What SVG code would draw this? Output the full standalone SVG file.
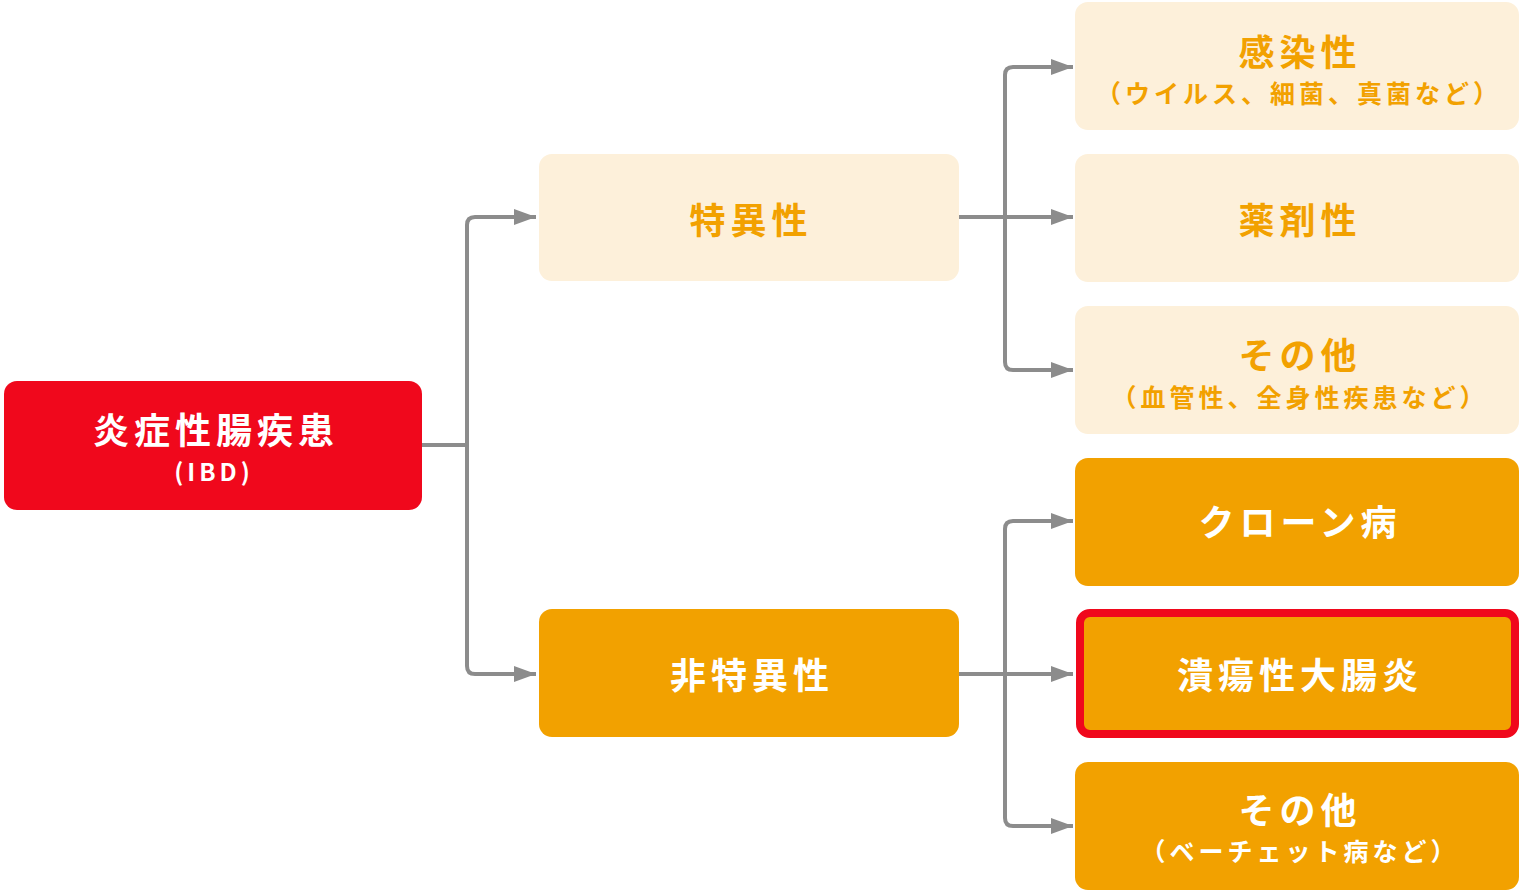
<svg xmlns="http://www.w3.org/2000/svg" width="1522" height="894" viewBox="0 0 1522 894">
<style>
.t{font-family:"Noto Sans CJK JP","Noto Sans",sans-serif;font-weight:700;text-anchor:middle}
.m{font-size:36px;letter-spacing:5px}
.s{font-size:25px;letter-spacing:4px}
.w{fill:#ffffff}
.o{fill:#F2A100}
.lt{fill:#FDF0DA}
.or{fill:#F2A100}
.c{fill:none;stroke:#8C8C8C;stroke-width:4}
</style>
<defs>
<marker id="ah" viewBox="0 0 10 10" refX="10" refY="5" markerWidth="5.5" markerHeight="4" markerUnits="strokeWidth" orient="auto" preserveAspectRatio="none">
<path d="M0,0 L10,5 L0,10 Z" fill="#8C8C8C"/>
</marker>
</defs>
<rect width="1522" height="894" fill="#ffffff"/>
<g id="connectors">
<path class="c" d="M422,445 H467"/>
<path class="c" d="M536,217 H475 Q467,217 467,225 V666 Q467,674 475,674 H536" marker-end="url(#ah)"/>
<path class="c" d="M475,217 H536" marker-end="url(#ah)"/>
<path class="c" d="M959,217 H1073" marker-end="url(#ah)"/>
<path class="c" d="M1073,67 H1013 Q1005,67 1005,75 V362 Q1005,370 1013,370 H1073" marker-end="url(#ah)"/>
<path class="c" d="M1013,67 H1073" marker-end="url(#ah)"/>
<path class="c" d="M959,674 H1073" marker-end="url(#ah)"/>
<path class="c" d="M1073,521 H1013 Q1005,521 1005,529 V818 Q1005,826 1013,826 H1073" marker-end="url(#ah)"/>
<path class="c" d="M1013,521 H1073" marker-end="url(#ah)"/>
</g>
<g id="ibd">
<rect x="4" y="381" width="418" height="129" rx="13" fill="#F0081C"/>
<text class="t m w" x="216" y="444">炎症性腸疾患</text>
<text class="t w" x="214" y="481" style="font-size:24px;letter-spacing:4px">(IBD)</text>
</g>
<g id="specific">
<rect class="lt" x="539" y="154" width="420" height="127" rx="13"/>
<text class="t m o" x="751" y="234">特異性</text>
</g>
<g id="nonspecific">
<rect class="or" x="539" y="609" width="420" height="128" rx="13"/>
<text class="t m w" x="752" y="689">非特異性</text>
</g>
<g id="infectious">
<rect class="lt" x="1075" y="2" width="444" height="128" rx="13"/>
<text class="t m o" x="1300" y="66">感染性</text>
<text class="t s o" x="1299" y="103">（ウイルス、細菌、真菌など）</text>
</g>
<g id="drug">
<rect class="lt" x="1075" y="154" width="444" height="128" rx="13"/>
<text class="t m o" x="1300" y="234">薬剤性</text>
</g>
<g id="other1">
<rect class="lt" x="1075" y="306" width="444" height="128" rx="13"/>
<text class="t m o" x="1300" y="369">その他</text>
<text class="t s o" x="1300" y="407">（血管性、全身性疾患など）</text>
</g>
<g id="crohn">
<rect class="or" x="1075" y="458" width="444" height="128" rx="13"/>
<text class="t m w" x="1300" y="536">クローン病</text>
</g>
<g id="uc">
<rect x="1080" y="613" width="435" height="121" rx="10" fill="#F2A100" stroke="#F0081C" stroke-width="8"/>
<text class="t m w" x="1300" y="689">潰瘍性大腸炎</text>
</g>
<g id="other2">
<rect class="or" x="1075" y="762" width="444" height="128" rx="13"/>
<text class="t m w" x="1300" y="824">その他</text>
<text class="t s w" x="1300" y="861">（ベーチェット病など）</text>
</g>
</svg>
